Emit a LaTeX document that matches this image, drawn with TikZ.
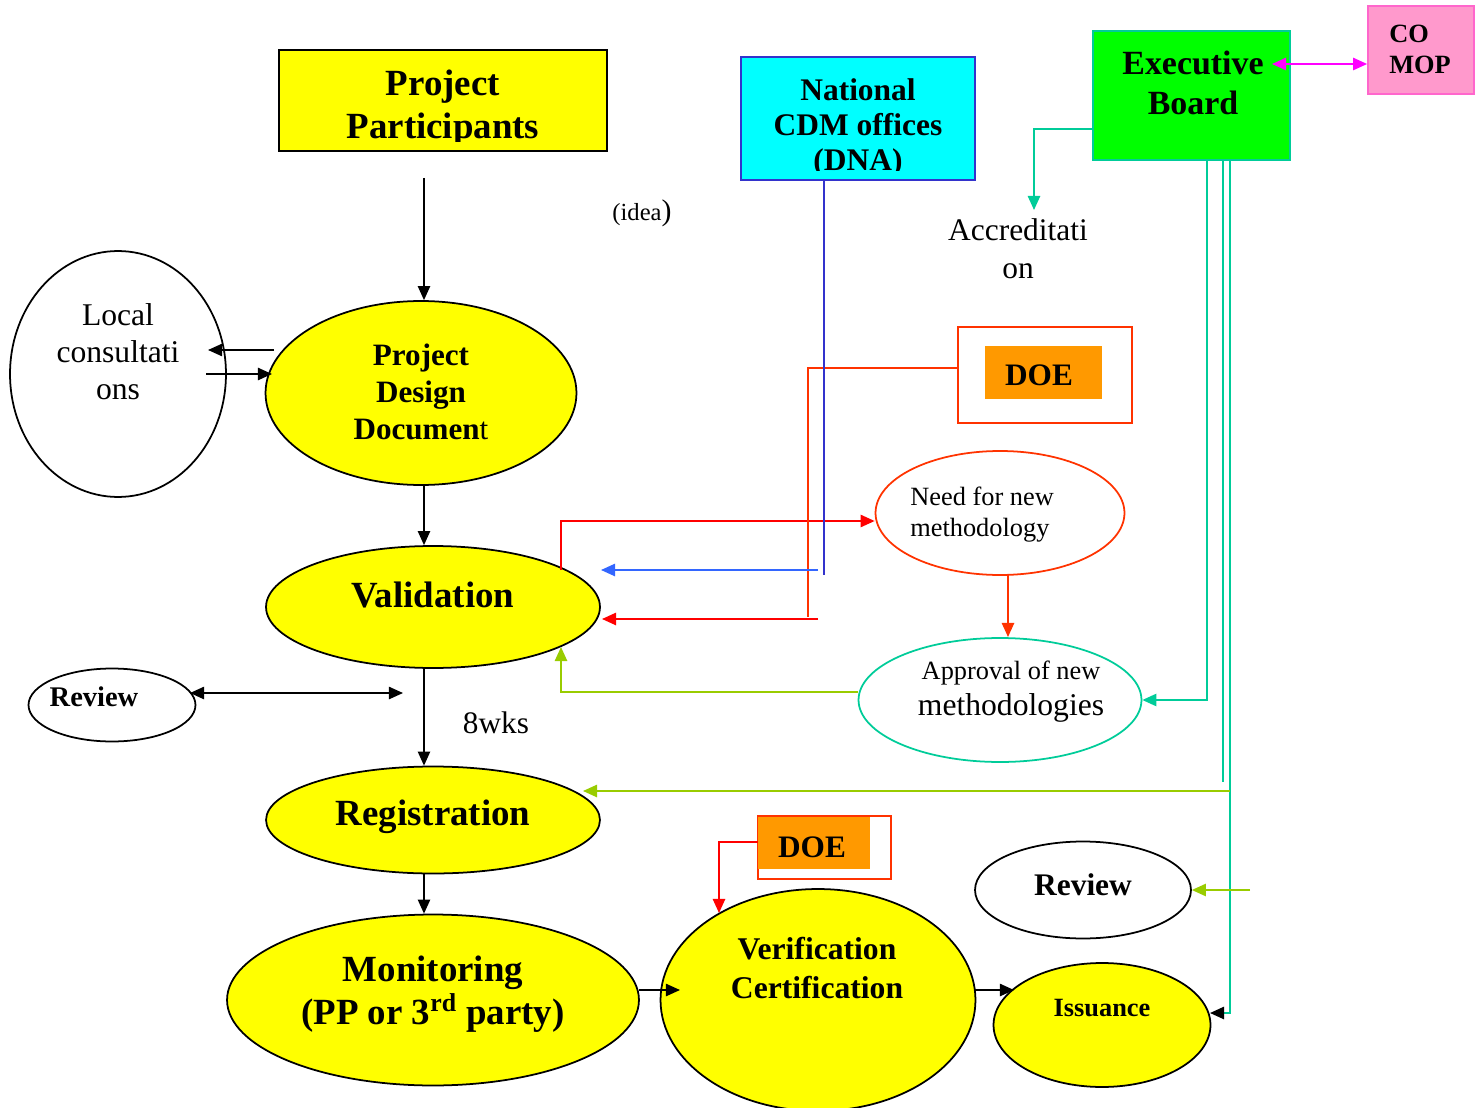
\documentclass[tikz,border=0pt]{standalone}
\usepackage{fontspec}
\setmainfont{Liberation Serif}
\usetikzlibrary{arrows.meta,shapes.geometric}
\definecolor{cdmyel}{HTML}{FFFF00}
\definecolor{cdmcyan}{HTML}{00FFFF}
\definecolor{cdmblue}{HTML}{3333CC}
\definecolor{cdmblue2}{HTML}{3366FF}
\definecolor{cdmgreen}{HTML}{00FF00}
\definecolor{cdmteal}{HTML}{00CC99}
\definecolor{cdmpink}{HTML}{FF99CC}
\definecolor{cdmpinkb}{HTML}{FF66CC}
\definecolor{cdmmag}{HTML}{FF00FF}
\definecolor{cdmlime}{HTML}{99CC00}
\definecolor{cdmred}{HTML}{FF0000}
\definecolor{cdmorred}{HTML}{FF3300}
\definecolor{cdmorange}{HTML}{FF9900}
\begin{document}
\begin{tikzpicture}[x=0.02cm,y=-0.02cm,
  ell/.style={ellipse, draw=black, line width=1pt, inner sep=0pt},
  yel/.style={ell, fill=cdmyel},
  boxn/.style={rectangle, inner sep=0pt},
  txt/.style={inner sep=0pt, align=center},
  tip/.style={-{Triangle[length=8pt,width=7pt]}},
  arr/.style={tip, line width=0.9pt, draw=black},
  arrtwo/.style={{Triangle[length=8pt,width=7pt]}-{Triangle[length=8pt,width=7pt]}, line width=0.9pt},
  tealln/.style={draw=cdmteal, line width=1pt},
  limeln/.style={draw=cdmlime, line width=1pt},
  redln/.style={draw=cdmred, line width=1pt},
]
\useasboundingbox (0,0) rectangle (1481,1108);

% ---------- boxes ----------
\node[boxn, draw=black, line width=1pt, fill=cdmyel, minimum width=6.56cm, minimum height=2.02cm] (PP) at (443,100.5) {};
\begin{scope}
\clip (279,50) rectangle (607,142);
\node[txt, font=\fontsize{21}{24.4}\selectfont\bfseries] (PPt) at (443,108) {Project\\Participants};
\end{scope}

\node[boxn, draw=cdmblue, line width=1pt, fill=cdmcyan, minimum width=4.68cm, minimum height=2.46cm] (NAT) at (858,118.5) {};
\begin{scope}
\clip (741,57) rectangle (975,171);
\node[txt, font=\fontsize{17.9}{19.8}\selectfont\bfseries] (NATt) at (858,128) {National\\CDM offices\\(DNA)};
\end{scope}

\node[boxn, draw=cdmteal, line width=1pt, fill=cdmgreen, minimum width=3.94cm, minimum height=2.58cm] (EB) at (1191.5,95.5) {};
\node[txt, font=\fontsize{19.3}{22.7}\selectfont\bfseries] (EBt) at (1193,83) {Executive\\Board};

\node[boxn, draw=cdmpinkb, line width=1pt, fill=cdmpink, minimum width=2.12cm, minimum height=1.76cm] (CM) at (1421,50) {};
\node[txt, align=left, anchor=west, font=\fontsize{15}{17.6}\selectfont\bfseries] (CMt) at (1389,49) {CO\\MOP};

\node[boxn, draw=cdmorred, line width=1pt, minimum width=3.48cm, minimum height=1.92cm] (DOEa) at (1045,375) {};
\node[boxn, fill=cdmorange, minimum width=2.34cm, minimum height=1.06cm] (DOEai) at (1043.5,372.5) {};
\node[txt, font=\fontsize{17.8}{20}\selectfont\bfseries] (DOEat) at (1039,375) {DOE};

\node[boxn, draw=cdmorred, line width=1pt, minimum width=2.66cm, minimum height=1.26cm] (DOEb) at (824.5,847.5) {};
\node[boxn, fill=cdmorange, minimum width=2.24cm, minimum height=1.04cm] (DOEbi) at (814,843) {};
\node[txt, font=\fontsize{17.8}{20}\selectfont\bfseries] (DOEbt) at (812,847) {DOE};

% ---------- ellipses ----------
\node[ell, minimum width=4.32cm, minimum height=4.92cm] (LOC) at (118,374) {};
\node[txt, font=\fontsize{18}{21}\selectfont] (LOCt) at (118,352) {Local\\consultati\\ons};

\node[yel, minimum width=6.22cm, minimum height=3.68cm] (PDD) at (421,393) {};
\node[txt, font=\fontsize{17.7}{21}\selectfont\bfseries] (PDDt) at (421,392) {Project\\Design\\Documen{\mdseries t}};

\node[yel, minimum width=6.68cm, minimum height=2.44cm] (VAL) at (433,607) {};
\node[txt, font=\fontsize{21}{24}\selectfont\bfseries] (VALt) at (433,595) {Validation};

\node[ell, minimum width=3.34cm, minimum height=1.46cm] (RVL) at (112,705) {};
\node[txt, font=\fontsize{16.2}{19}\selectfont\bfseries] (RVLt) at (94,697) {Review};

\node[yel, minimum width=6.68cm, minimum height=2.14cm] (REG) at (433,820) {};
\node[txt, font=\fontsize{21}{24}\selectfont\bfseries] (REGt) at (433,817) {Registration};

\node[yel, minimum width=8.24cm, minimum height=3.42cm] (MON) at (433,1000) {};
\node[txt, font=\fontsize{21}{24.4}\selectfont\bfseries] (MONt) at (433,994) {Monitoring\\(PP or 3\textsuperscript{rd} party)};

\node[yel, minimum width=6.3cm, minimum height=4.44cm] (VER) at (818,1000) {};
\node[txt, font=\fontsize{18}{22}\selectfont\bfseries] (VERt) at (817,968) {Verification\\Certification};

\node[ell, draw=cdmorred, minimum width=4.98cm, minimum height=2.48cm] (NEED) at (1000,513) {};
\node[txt, align=left, anchor=west, font=\fontsize{15}{17.6}\selectfont] (NEEDt) at (910,515) {Need for new\\methodology};

\node[ell, draw=cdmteal, minimum width=5.66cm, minimum height=2.48cm] (APP) at (1000,700) {};
\node[txt, font=\fontsize{15}{17}\selectfont] (APPt1) at (1011,673) {Approval of new};
\node[txt, font=\fontsize{18}{20}\selectfont] (APPt2) at (1011,708) {methodologies};

\node[ell, minimum width=4.32cm, minimum height=1.94cm] (RVR) at (1083,890) {};
\node[txt, font=\fontsize{17.9}{20}\selectfont\bfseries] (RVRt) at (1083,885) {Review};

\node[yel, minimum width=4.34cm, minimum height=2.48cm] (ISS) at (1102,1025) {};
\node[txt, font=\fontsize{15}{17}\selectfont\bfseries] (ISSt) at (1102,1008) {Issuance};

% ---------- free texts ----------
\node[txt, font=\fontsize{14}{16}\selectfont] (IDEA) at (642,213) {(idea{\fontsize{17}{18}\selectfont)}};
\node[txt, font=\fontsize{17.9}{21.5}\selectfont] (ACC) at (1018,249) {Accreditati\\on};
\node[txt, font=\fontsize{17.8}{20}\selectfont] (WKS) at (496,723) {8wks};

% ---------- coordinates ----------
\coordinate (col) at (424,0);
\coordinate (ppout) at (424,178);
\coordinate (lcA) at (274,350);
\coordinate (lcB) at (208,350);
\coordinate (lcC) at (206,374);
\coordinate (lcD) at (272,374);
\coordinate (rvA) at (190,693);
\coordinate (rvB) at (403,693);
\coordinate (mvA) at (639,990);
\coordinate (mvB) at (680,990);
\coordinate (viA) at (975,990);
\coordinate (viB) at (1014,990);
\coordinate (magA) at (1272,64);
\coordinate (accA) at (1034,129);
\coordinate (accB) at (1034,210);
\coordinate (tA) at (1207,160);
\coordinate (tB) at (1207,700);
\coordinate (tC) at (1223,160);
\coordinate (tD) at (1223,782);
\coordinate (tE) at (1230,160);
\coordinate (tF) at (1230,1013);
\coordinate (tG) at (1210,1013);
\coordinate (lmA) at (1230,791);
\coordinate (lmB) at (583,791);
\coordinate (lmC) at (1250,890);
\coordinate (lmD) at (561,692);
\coordinate (lmE) at (561,647);
\coordinate (rdA) at (561,570);
\coordinate (rdB) at (561,521);
\coordinate (rdC) at (808,368);
\coordinate (rdD) at (808,617);
\coordinate (rdE) at (818,619);
\coordinate (rdF) at (602,619);
\coordinate (blA) at (824,575);
\coordinate (blB) at (818,570);
\coordinate (blC) at (601,570);
\coordinate (rnA) at (1008,575);
\coordinate (rnB) at (1008,637);
\coordinate (dbA) at (719,842);
\coordinate (dbB) at (719,913);

% ---------- black connectors ----------
\draw[arr] (ppout) -- (ppout |- PDD.north);
\draw[arr] (col |- PDD.south) -- (col |- VAL.north);
\draw[arr] (col |- VAL.south) -- (col |- REG.north);
\draw[arr] (col |- REG.south) -- (col |- MON.north);
\draw[arr] (lcA) -- (lcB);
\draw[arr] (lcC) -- (lcD);
\draw[arrtwo] (rvA) -- (rvB);
\draw[arr] (mvA) -- (mvB);
\draw[arr] (viA) -- (viB);

% ---------- coloured connectors ----------
\draw[{Triangle[length=8pt,width=7pt]}-{Triangle[length=8pt,width=7pt]}, draw=cdmmag, line width=1pt] (magA) -- (magA -| CM.west);
\draw[tealln, tip] (EB.west |- accA) -- (accA) -- (accB);
\draw[tealln, tip] (tA) -- (tB) -- (APP.east);
\draw[tealln] (tC) -- (tD);
\draw[tealln, -{Triangle[length=8pt,width=7pt,black]}] (tE) -- (tF) -- (tG);
\draw[limeln, tip] (lmA) -- (lmB);
\draw[limeln, tip] (lmC) -- (lmC -| RVR.east);
\draw[limeln, tip] (APP.west |- lmD) -- (lmD) -- (lmE);
\draw[redln, tip] (rdA) -- (rdB) -- (rdB -| NEED.west);
\draw[draw=cdmorred, line width=1pt] (DOEa.west |- rdC) -- (rdC) -- (rdD);
\draw[redln, tip] (rdE) -- (rdF);
\draw[draw=cdmblue, line width=1pt] (NAT.south -| blA) -- (blA);
\draw[draw=cdmblue2, line width=1pt, tip] (blB) -- (blC);
\draw[draw=cdmorred, line width=1pt, tip] (rnA) -- (rnB);
\draw[redln, tip] (DOEbi.west |- dbA) -- (dbA) -- (dbB);
\end{tikzpicture}
\end{document}
